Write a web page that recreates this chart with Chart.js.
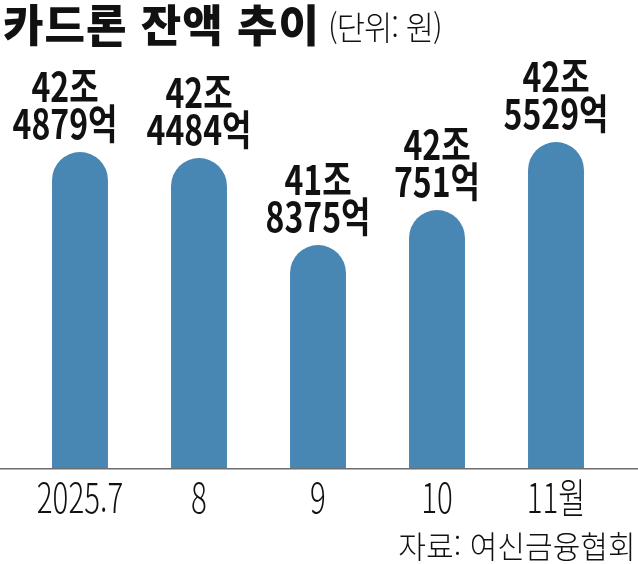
<!DOCTYPE html>
<html lang="ko">
<head>
<meta charset="utf-8">
<script src="https://cdn.jsdelivr.net/npm/chart.js@4.4.1/dist/chart.umd.min.js"></script>
<style>
    html, body { margin: 0; padding: 0; background: #fff; }
    #wrap { position: relative; width: 638px; height: 564px; overflow: hidden; }
    #chart { position: absolute; left: 0; top: 0; }
    .title {
        position: absolute; left: 3px; top: -3px; white-space: nowrap;
        font-family: 'Noto Sans CJK KR', sans-serif; color: #111;
        font-size: 44px; font-weight: 900; letter-spacing: 1px; line-height: 52px;
    }
    .unit {
        font-size: 33px; font-weight: 300; letter-spacing: -1px;
        display: inline-block; transform: scaleX(0.93); transform-origin: left center;
        margin-left: 8px; vertical-align: 2px;
    }
    .source {
        position: absolute; right: 2px; top: 526px; white-space: nowrap;
        font-family: 'Noto Sans CJK KR', sans-serif; color: #111;
        font-size: 31px; font-weight: 300; line-height: 38px;
        transform: scaleX(0.97); transform-origin: right center;
    }
</style>
</head>
<body>
<div id="wrap">
    <canvas id="chart" width="638" height="564"></canvas>
    <div class="title">카드론 잔액 추이<span class="unit">(단위: 원)</span></div>
    <div class="source">자료: 여신금융협회</div>
</div>
<script>
    // values
    const months = ['2025.7', '8', '9', '10', '11월'];
    const trillionLabels = ['42조', '42조', '41조', '42조', '42조'];
    const billionLabels = ['4879억', '4484억', '8375억', '751억', '5529억'];
    const barLevels = [316, 310, 223, 258, 326]; // bar heights as drawn (chart is not to scale)

    const BAR_COLOR = '#4886b4';
    const TEXT_COLOR = '#111';

    // draws condensed text centred on x
    function narrowText(ctx, text, x, y, sx) {
        ctx.save();
        ctx.translate(x, y);
        ctx.scale(sx, 1);
        ctx.fillText(text, 0, 0);
        ctx.restore();
    }

    const labelPlugin = {
        id: 'labelPlugin',
        afterDatasetsDraw(chart, args, opts) {
            const ctx = chart.ctx;
            const xScale = chart.scales.x;
            const yScale = chart.scales.y;
            const meta = chart.getDatasetMeta(0);

            // baseline across the whole width
            const y0 = yScale.getPixelForValue(0);
            ctx.save();
            ctx.strokeStyle = '#6e6e6e';
            ctx.lineWidth = 1.5;
            ctx.beginPath();
            ctx.moveTo(0, y0 + 0.75);
            ctx.lineTo(chart.width, y0 + 0.75);
            ctx.stroke();

            ctx.fillStyle = TEXT_COLOR;
            ctx.textAlign = 'center';
            ctx.textBaseline = 'alphabetic';

            // value labels above the bars
            ctx.font = '700 41px "Noto Sans CJK KR"';
            meta.data.forEach((bar, i) => {
                const x = bar.x + opts.shift[i];
                const base = bar.y - 13;
                narrowText(ctx, billionLabels[i], x, base, opts.squeeze);
                narrowText(ctx, trillionLabels[i], x, base - 37, opts.squeeze);
            });

            // category labels under the axis
            ctx.font = '300 41px "Noto Sans CJK KR"';
            chart.data.labels.forEach((lab, i) => {
                narrowText(ctx, lab, xScale.getPixelForValue(i), y0 + 45, 0.72);
            });
            ctx.restore();
        }
    };

    new Chart(document.getElementById('chart'), {
        type: 'bar',
        data: {
            labels: months,
            datasets: [{
                data: barLevels,
                backgroundColor: BAR_COLOR,
                barPercentage: 0.47,
                categoryPercentage: 1,
                borderRadius: { topLeft: 28, topRight: 28, bottomLeft: 0, bottomRight: 0 },
                borderSkipped: 'start'
            }]
        },
        options: {
            responsive: false,
            animation: false,
            layout: { padding: { left: 20.5, right: 22.5, top: 68, bottom: 96 } },
            scales: {
                x: { display: false },
                y: { display: false, min: 0, max: 400 }
            },
            plugins: {
                legend: { display: false },
                tooltip: { enabled: false },
                labelPlugin: { shift: [-15, 0, 0, 0, 0], squeeze: 0.78 }
            }
        },
        plugins: [labelPlugin]
    });
</script>
</body>
</html>
